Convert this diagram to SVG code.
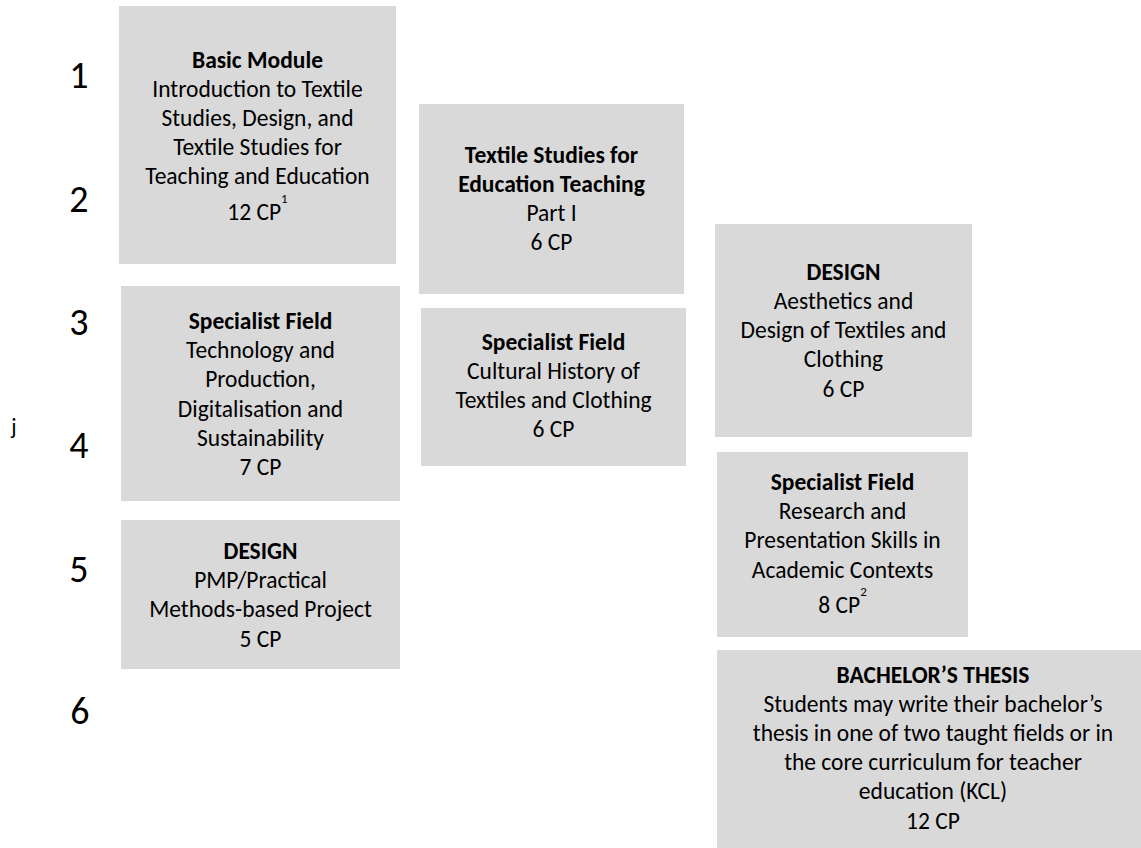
<svg xmlns="http://www.w3.org/2000/svg" width="1141" height="848" viewBox="0 0 1141 848">
<style>
.box{fill:#d9d9d9;}
text{font-family:Carlito,Lato,"Open Sans",sans-serif;fill:#000;}
.t{font-size:23.5px;text-anchor:middle;}
.b{font-weight:bold;}
.num{font-size:38px;text-anchor:middle;}
.sup{font-size:13px;}
</style>
<rect width="1141" height="848" fill="#fff"/>
<g id="semesters">
<text class="num" x="79" y="88">1</text>
<text class="num" x="79" y="212">2</text>
<text class="num" x="79" y="335">3</text>
<text class="num" x="79" y="458">4</text>
<text class="num" x="79" y="582">5</text>
<text class="num" x="80" y="724">6</text>
<text x="14" y="434" style="font-size:22px;text-anchor:middle">j</text>
</g>
<g id="basic-module">
<rect class="box" x="119" y="6" width="277" height="258"/>
<text class="t b" x="257.5" y="68">Basic Module</text>
<text class="t" x="257.5" y="97">Introduction to Textile</text>
<text class="t" x="257.5" y="126">Studies, Design, and</text>
<text class="t" x="257.5" y="155">Textile Studies for</text>
<text class="t" x="257.5" y="184">Teaching and Education</text>
<text class="t" x="257.5" y="220">12 CP<tspan class="sup" dy="-17">1</tspan></text>
</g>
<g id="textile-education">
<rect class="box" x="419" y="104" width="265" height="190"/>
<text class="t b" x="551.5" y="163">Textile Studies for</text>
<text class="t b" x="551.5" y="192">Education Teaching</text>
<text class="t" x="551.5" y="221">Part I</text>
<text class="t" x="551.5" y="250">6 CP</text>
</g>
<g id="technology">
<rect class="box" x="121" y="286" width="279" height="215"/>
<text class="t b" x="260.5" y="329">Specialist Field</text>
<text class="t" x="260.5" y="358">Technology and</text>
<text class="t" x="260.5" y="387">Production,</text>
<text class="t" x="260.5" y="417">Digitalisation and</text>
<text class="t" x="260.5" y="446">Sustainability</text>
<text class="t" x="260.5" y="475">7 CP</text>
</g>
<g id="cultural-history">
<rect class="box" x="421" y="308" width="265" height="158"/>
<text class="t b" x="553.5" y="350">Specialist Field</text>
<text class="t" x="553.5" y="379">Cultural History of</text>
<text class="t" x="553.5" y="408">Textiles and Clothing</text>
<text class="t" x="553.5" y="437">6 CP</text>
</g>
<g id="design-aesthetics">
<rect class="box" x="715" y="224" width="257" height="213"/>
<text class="t b" x="843.5" y="280">DESIGN</text>
<text class="t" x="843.5" y="309">Aesthetics and</text>
<text class="t" x="843.5" y="338">Design of Textiles and</text>
<text class="t" x="843.5" y="367">Clothing</text>
<text class="t" x="843.5" y="397">6 CP</text>
</g>
<g id="design-pmp">
<rect class="box" x="121" y="520" width="279" height="149"/>
<text class="t b" x="260.5" y="559">DESIGN</text>
<text class="t" x="260.5" y="588">PMP/Practical</text>
<text class="t" x="260.5" y="617">Methods-based Project</text>
<text class="t" x="260.5" y="647">5 CP</text>
</g>
<g id="research-skills">
<rect class="box" x="717" y="452" width="251" height="185"/>
<text class="t b" x="842.5" y="490">Specialist Field</text>
<text class="t" x="842.5" y="519">Research and</text>
<text class="t" x="842.5" y="548">Presentation Skills in</text>
<text class="t" x="842.5" y="578">Academic Contexts</text>
<text class="t" x="842.5" y="613">8 CP<tspan class="sup" dy="-17">2</tspan></text>
</g>
<g id="bachelor-thesis">
<rect class="box" x="717" y="650" width="440" height="210"/>
<text class="t b" x="933" y="683">BACHELOR’S THESIS</text>
<text class="t" x="933" y="712">Students may write their bachelor’s</text>
<text class="t" x="933" y="741">thesis in one of two taught fields or in</text>
<text class="t" x="933" y="770">the core curriculum for teacher</text>
<text class="t" x="933" y="799">education (KCL)</text>
<text class="t" x="933" y="829">12 CP</text>
</g>
<g id="connectors"></g>
</svg>
